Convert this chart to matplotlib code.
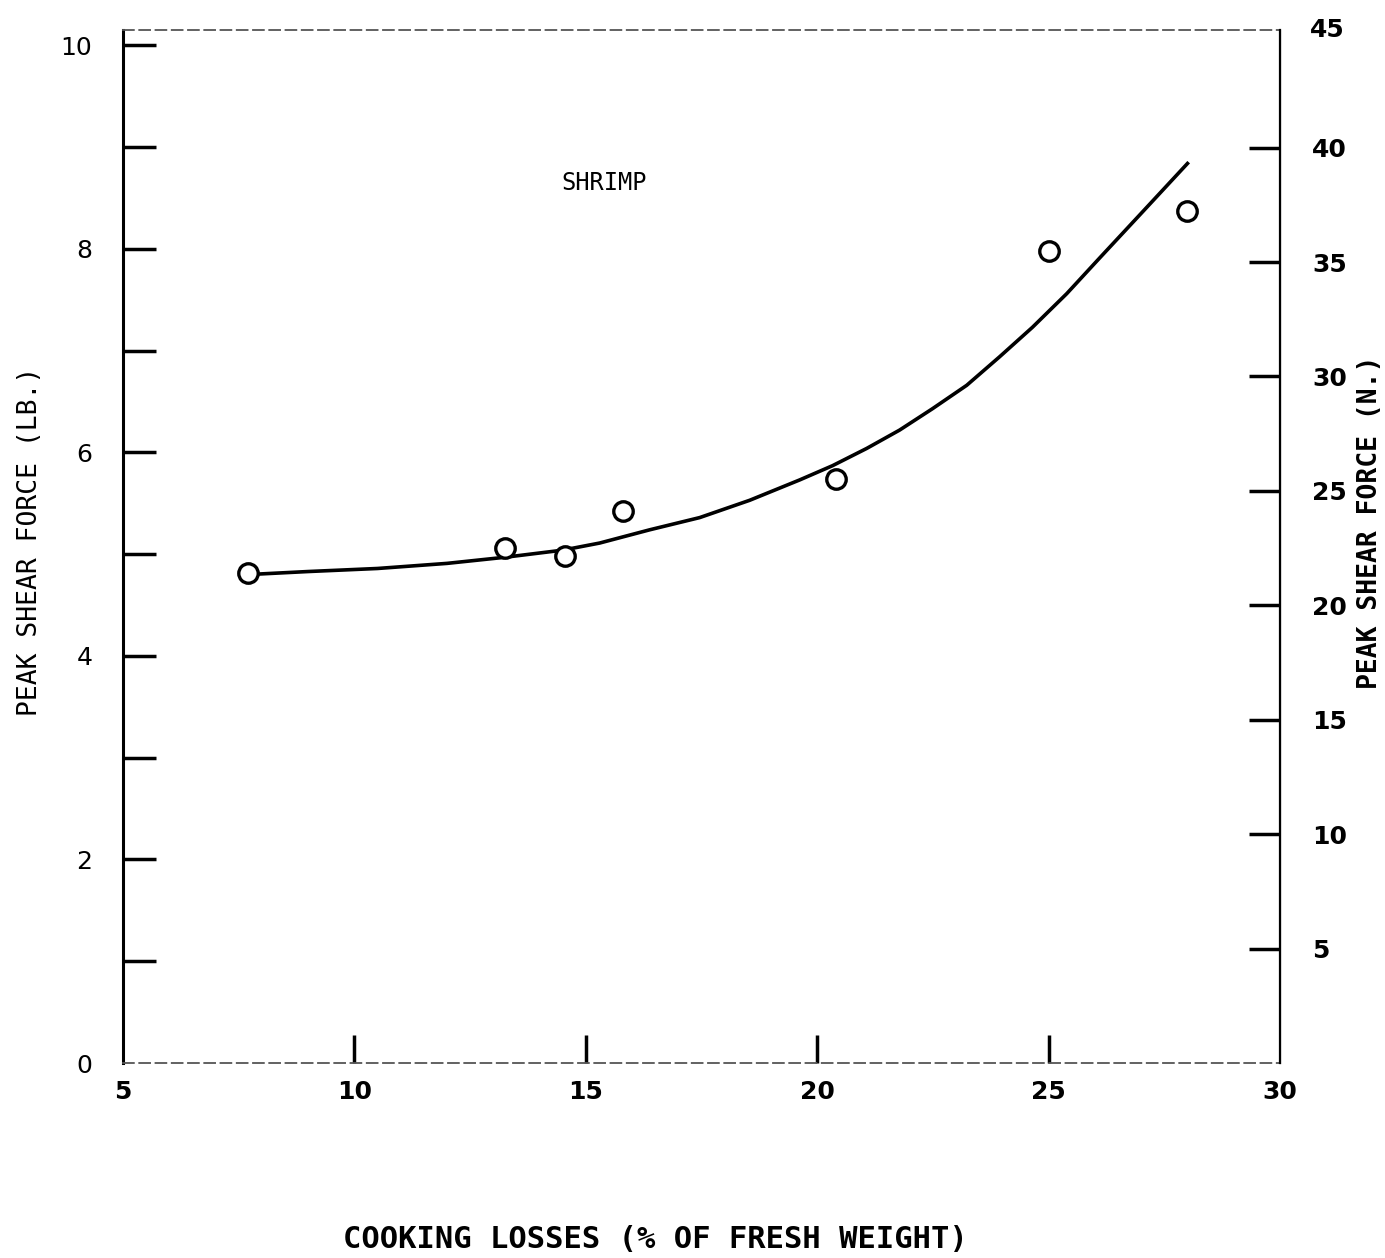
import numpy as np
import matplotlib.pyplot as plt

# Measured points (cooking loss %, peak shear force lb)
loss_pts = [7.7, 13.25, 14.55, 15.8, 20.4, 25.0, 28.0]
force_pts = [4.82, 5.06, 4.98, 5.42, 5.74, 7.98, 8.37]

# Fitted curve
loss_curve = [7.7, 9.0, 10.5, 12.0, 13.25, 14.5, 15.3, 16.38, 17.46, 18.54, 19.62, 20.33,
              21.07, 21.78, 22.49, 23.23, 23.94, 24.65, 25.39, 26.1, 27.0, 28.0]
force_curve = [4.80, 4.83, 4.86, 4.91, 4.97, 5.04, 5.11, 5.24, 5.36, 5.53, 5.73, 5.87,
               6.04, 6.22, 6.43, 6.66, 6.94, 7.23, 7.56, 7.91, 8.35, 8.84]

x_ticks = [5, 10, 15, 20, 25, 30]
x_labels = ['5', '10', '15', '20', '25', '30']
x_marks = [10, 15, 20, 25]
left_ticks = [0, 2, 4, 6, 8, 10]
left_marks = [1, 2, 3, 4, 5, 6, 7, 8, 9, 10]
right_ticks = [5, 10, 15, 20, 25, 30, 35, 40]

plt.rcParams['font.family'] = 'DejaVu Sans'

fig = plt.figure(figsize=(13.85, 12.58), dpi=100)
ax = fig.add_axes([0.0888, 0.155, 0.8354, 0.821])

ax.plot(loss_curve, force_curve, color='black', linewidth=2.6)
ax.plot(loss_pts, force_pts, linestyle='none', marker='o', markersize=14,
        markerfacecolor='white', markeredgecolor='black', markeredgewidth=2.4)

ax.set_xlim(5, 30)
ax.set_ylim(0, 10.15)

# labels on major ticks, tick marks drawn as minor ticks (no marks at the corners)
ax.xaxis.remove_overlapping_locs = False
ax.yaxis.remove_overlapping_locs = False
ax.set_xticks(x_ticks)
ax.set_xticklabels(x_labels, fontweight='bold')
ax.set_xticks(x_marks, minor=True)
ax.set_yticks(left_ticks)
ax.set_yticks(left_marks, minor=True)
ax.tick_params(axis='x', which='major', direction='in', length=0, pad=12, labelsize=18)
ax.tick_params(axis='y', which='major', direction='in', length=0, pad=22, labelsize=18)
ax.tick_params(axis='x', which='minor', direction='in', length=20, width=2.5)
ax.tick_params(axis='y', which='minor', direction='in', length=24, width=2.5)

for side in ['top', 'bottom']:
    ax.spines[side].set_linestyle((0, (6, 3)))
    ax.spines[side].set_linewidth(1.3)
    ax.spines[side].set_color('#555555')
ax.spines['left'].set_linewidth(2.2)

ax2 = ax.twinx()
ax2.set_ylim(0, 45.0 * 10.15 / 10.12)
ax2.set_yticks(right_ticks)
ax2.set_yticklabels([str(t) for t in right_ticks], fontweight='bold')
ax2.tick_params(axis='y', direction='in', length=22, width=2.5, pad=23, labelsize=18)
ax2.spines['right'].set_linewidth(1.6)
for side in ['top', 'bottom', 'left']:
    ax2.spines[side].set_visible(False)
fig.text(0.946, 0.976, '45', fontsize=18, fontweight='bold', ha='left', va='center')

ax.text(15.4, 8.65, 'SHRIMP', fontsize=17, family='DejaVu Sans Mono', ha='center', va='center')

fig.text(0.022, 0.57, 'PEAK SHEAR FORCE (LB.)', rotation=90, fontsize=19,
         family='DejaVu Sans Mono', ha='center', va='center')
fig.text(0.989, 0.585, 'PEAK SHEAR FORCE (N.)', rotation=90, fontsize=19,
         family='DejaVu Sans Mono', fontweight='bold', ha='center', va='center')
fig.text(0.473, 0.015, 'COOKING LOSSES (% OF FRESH WEIGHT)', fontsize=22,
         family='DejaVu Sans Mono', fontweight='bold', ha='center', va='center')

plt.savefig('out.png', dpi=100)
plt.close()
